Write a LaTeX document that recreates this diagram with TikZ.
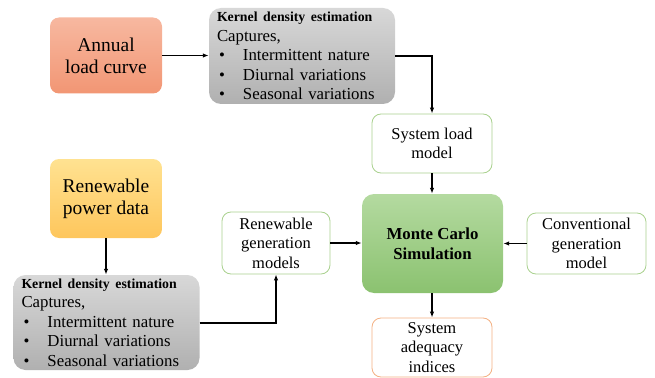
\documentclass[tikz,border=0pt]{standalone}
\usepackage{fontspec}
\setmainfont{Liberation Serif}
\usetikzlibrary{arrows.meta,calc}
\definecolor{lineGreen}{RGB}{169,209,142}
\definecolor{lineOrange}{RGB}{244,177,131}
\tikzset{
  box/.style={rounded corners=9pt, align=center, inner sep=2pt},
  srcbox/.style={box, minimum width=112pt, minimum height=76pt, font=\fontsize{19.5}{22}\selectfont},
  modelbox/.style={box, draw=lineGreen, line width=0.8pt, fill=white, minimum width=120pt, font=\fontsize{16.5}{19.5}\selectfont},
  kdebox/.style={rounded corners=12pt, top color={rgb,255:red,216;green,216;blue,216}, bottom color={rgb,255:red,176;green,176;blue,176}, minimum width=184pt, minimum height=96pt, text width=170pt, align=left, inner xsep=8pt, inner ysep=2pt, font=\fontsize{16.8}{19.5}\selectfont},
  flow/.style={-{Latex[length=6pt,width=4.5pt]}, line width=1.2pt, black},
}
\newcommand{\kdetext}{%
  {\fontsize{13.8}{14}\selectfont\bfseries Kernel density estimation}\\
  Captures,\\
  \hspace*{2pt}\makebox[24pt][l]{\textbullet}Intermittent nature\\
  \hspace*{2pt}\makebox[24pt][l]{\textbullet}Diurnal variations\\
  \hspace*{2pt}\makebox[24pt][l]{\textbullet}Seasonal variations}
\begin{document}
\begin{tikzpicture}[x=1pt,y=1pt]
\useasboundingbox (0,0) rectangle (655,-377);
% input data
\node[srcbox, top color={rgb,255:red,247;green,184;blue,160}, bottom color={rgb,255:red,242;green,150;blue,116}] (load) at (106,-55.5) {Annual\\load curve};
\node[srcbox, minimum height=79pt, top color={rgb,255:red,255;green,226;blue,145}, bottom color={rgb,255:red,254;green,198;blue,92}] (ren) at (106,-198.5) {Renewable\\power data};
% kernel density estimation
\node[kdebox] (kde1) at (302,-56) {\kdetext};
\node[kdebox, minimum height=95pt, minimum width=183pt] (kde2) at (106.5,-322.5) {\kdetext};
% models
\node[modelbox, minimum height=59pt] (slm) at (432,-143.5) {System load\\model};
\node[modelbox, minimum width=108pt, minimum height=62pt] (rgm) at (276,-243) {Renewable\\generation\\models};
\node[modelbox, minimum width=119pt, minimum height=61pt] (cgm) at (586.5,-243.5) {Conventional\\generation\\model};
\node[box, rounded corners=12pt, top color={rgb,255:red,180;green,218;blue,160}, bottom color={rgb,255:red,139;green,194;blue,112}, minimum width=141pt, minimum height=99pt, font=\fontsize{16.8}{20}\selectfont\bfseries] (mcs) at (432.5,-243.5) {Monte Carlo\\Simulation};
\node[box, draw=lineOrange, line width=0.8pt, fill=white, minimum width=120pt, minimum height=59pt, font=\fontsize{16.5}{19.5}\selectfont] (sai) at (432,-347.5) {System\\adequacy\\indices};
% connectors
\draw[flow] (load.east) -- (kde1.west |- load.east);
\draw[flow] (kde1.east |- 0,-56) -| (slm.north);
\draw[flow] (slm.south) -- (mcs.north -| slm.south);
\draw[flow] (cgm.west) -- (mcs.east |- cgm.west);
\draw[flow] (rgm.east) -- (mcs.west |- rgm.east);
\draw[flow] (ren.south) -- (kde2.north -| ren.south);
\draw[flow] (kde2.east |- 0,-323) -| (rgm.south);
\draw[flow] (mcs.south -| sai.north) -- (sai.north);
\end{tikzpicture}
\end{document}
